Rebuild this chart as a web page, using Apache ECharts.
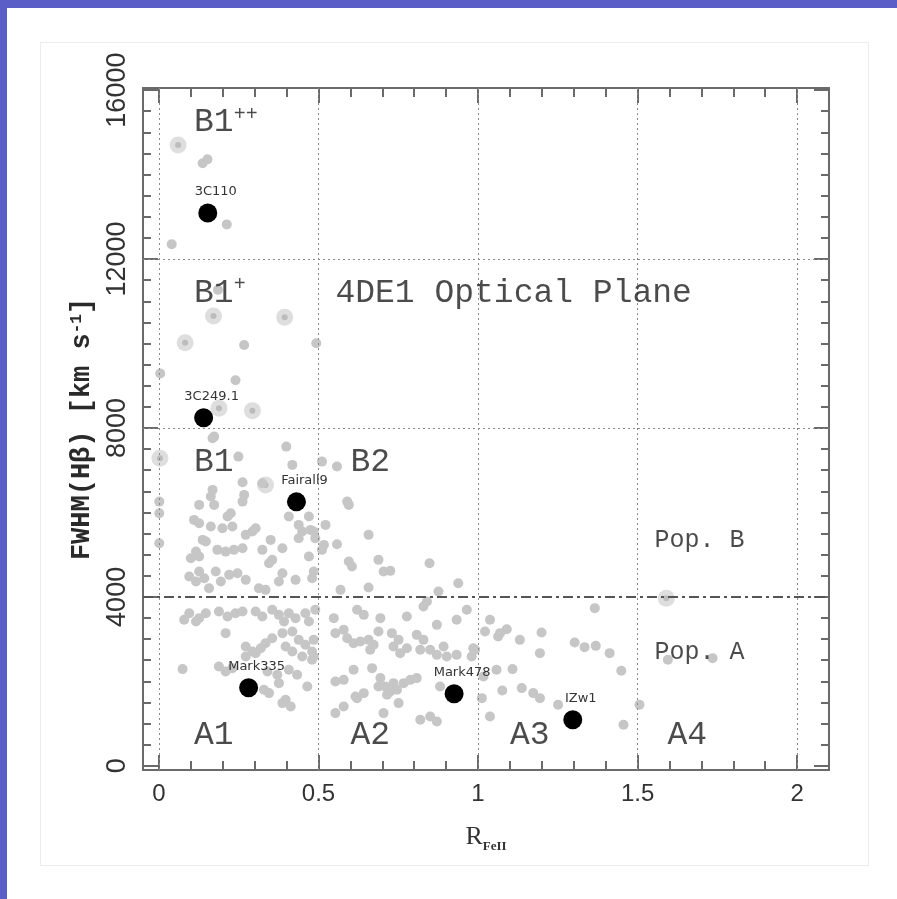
<!DOCTYPE html>
<html>
<head>
<meta charset="utf-8">
<title>4DE1 Optical Plane</title>
<script src="https://cdn.jsdelivr.net/npm/echarts@6/dist/echarts.min.js"></script>
<style>
  html, body { margin: 0; padding: 0; }
  body { width: 897px; height: 899px; background: #5a5ec6; position: relative; overflow: hidden; }
  #sheet { position: absolute; left: 7px; top: 8px; right: 0; bottom: 0; background: #fff; }
  #panel { position: absolute; left: 40px; top: 42px; width: 827px; height: 822px; border: 1px solid #ececec; background: #fff; }
  #chart { position: absolute; left: 0; top: 0; width: 897px; height: 899px; }
</style>
</head>
<body>
<div id="sheet"></div>
<div id="panel"></div>
<div id="chart"></div>
<script>
// tick positions
var xTicks = [0, 0.5, 1, 1.5, 2];
var yTicks = [0, 4000, 8000, 12000, 16000];
var yGrid = [8000, 12000];
var popDivide = 4000;

// grey sample points [R_FeII, FWHM(Hb)]
var samplePoints = [
  [0.137,14270],[0.152,14360],[0.2125,12820],[0.04,12350],[0.185,11270],[0.267,9965],[0.493,10005],[0.004,9290],[0.24,9130],[0.173,7795],
  [0.168,7757],[0.399,7558],[0.249,7321],[0.418,7125],[0.262,6715],[0.324,6691],[0.168,6533],[0.1625,6375],[0.267,6415],[0.262,6256],
  [0.001,6256],[0.126,6178],[0.173,6178],[0.225,5981],[0.215,5901],[0.001,5981],[0.11,5823],[0.126,5745],[0.1625,5665],[0.199,5626],
  [0.23,5665],[0.272,5468],[0.293,5546],[0.303,5626],[0.47,5901],[0.407,5901],[0.438,5704],[0.137,5349],[0.147,5309],[0.001,5270],
  [0.35,5349],[0.438,5388],[0.449,5546],[0.475,5586],[0.116,5072],[0.126,4955],[0.1,4916],[0.183,5113],[0.209,5072],[0.235,5113],
  [0.262,5153],[0.324,5113],[0.387,5153],[0.355,4876],[0.345,4797],[0.47,4955],[0.095,4481],[0.126,4600],[0.142,4442],[0.116,4363],
  [0.178,4600],[0.194,4363],[0.22,4521],[0.246,4561],[0.272,4403],[0.387,4561],[0.376,4363],[0.428,4403],[0.313,4206],[0.334,4166],
  [0.157,4206],
  [0.511,7203],[0.558,7085],[0.59,6256],[0.595,6178],[0.522,5704],[0.485,5546],[0.49,5388],[0.657,5468],[0.558,5247],[0.517,5231],
  [0.511,5113],[0.688,4876],[0.595,4836],[0.605,4718],[0.704,4600],[0.725,4616],[0.848,4797],[0.938,4324],[0.569,4166],[0.657,4220],
  [0.876,4126],[0.485,4600],[0.48,4442],
  [0.095,3614],[0.126,3496],[0.079,3456],[0.147,3614],[0.116,3416],[0.188,3653],[0.215,3535],[0.24,3614],[0.262,3653],[0.303,3653],
  [0.324,3535],[0.355,3693],[0.376,3574],[0.407,3614],[0.392,3416],[0.428,3496],[0.459,3614],[0.47,3416],[0.209,3141],[0.272,2824],
  [0.293,2706],[0.319,2785],[0.334,2903],[0.355,3021],[0.387,3141],[0.418,3180],[0.438,2982],[0.459,2864],[0.48,2706],[0.397,2824],
  [0.418,2706],[0.449,2587],[0.48,2509],[0.272,2587],[0.303,2667],[0.074,2289],[0.188,2350],[0.209,2232],[0.23,2312],[0.34,2232],
  [0.371,2154],[0.407,2272],[0.433,2154],[0.345,1721],[0.329,1799],[0.397,1562],[0.413,1404],[0.387,1484],[0.465,1877],[0.376,1957],
  [0.49,3693],[0.548,3496],[0.621,3693],[0.642,3574],[0.694,3496],[0.777,3535],[0.829,3771],[0.84,3890],[0.871,3337],[0.933,3456],
  [0.965,3693],[0.553,3141],[0.579,3219],[0.59,3021],[0.61,2903],[0.631,2942],[0.657,2982],[0.673,2864],[0.662,2746],[0.688,3180],
  [0.73,3141],[0.751,2982],[0.735,2824],[0.756,2667],[0.777,2785],[0.808,3100],[0.829,2982],[0.819,2746],[0.85,2746],[0.871,2627],
  [0.892,2824],[0.902,2587],[0.933,2627],[0.985,2785],[0.98,2587],[0.485,2982],[0.485,2587],[0.61,2272],[0.668,2312],[0.579,2035],
  [0.553,1995],[0.694,2076],[0.709,1877],[0.725,1759],[0.746,1799],[0.767,1957],[0.788,2035],[0.808,2076],[0.688,1877],[0.715,1681],
  [0.751,1484],[0.621,1602],[0.579,1404],[0.553,1247],[0.704,1247],[0.819,1089],[0.85,1167],[0.871,1049],[0.881,1877],[0.616,1640],
  [0.642,1720],[0.735,1957],
  [1.366,3733],[1.0375,3456],[1.022,3180],[1.069,3141],[1.09,3235],[1.063,3061],[1.131,2982],[1.199,3156],[1.194,2667],[1.303,2919],
  [1.334,2809],[1.369,2840],[1.4125,2667],[1.449,2249],[1.108,2289],[0.991,2746],[1.017,2114],[1.058,2272],[1.137,1839],[1.173,1721],
  [1.194,1602],[1.251,1444],[1.076,1782],[1.012,1602],[1.0375,1167],[1.456,970],[1.506,1444],[1.595,2509],[1.735,2549]
];

// the bigger pale rings
var ringPoints = [
  [0.06,14700],[0.171,10650],[0.394,10620],[0.082,10020],[0.188,8466],[0.293,8410],[0.003,7283],[0.334,6650],[1.59,3969]
];

// labelled sources (black dots)
var sourceNames = ['3C110', '3C249.1', 'Fairall9', 'Mark335', 'Mark478', 'IZw1'];
var sourceRfe = [0.153, 0.14, 0.431, 0.281, 0.925, 1.297];
var sourceFwhm = [13090, 8240, 6250, 1846, 1704, 1089];

// bin names and where they sit
var binNames = ['B1', 'B1', '4DE1 Optical Plane', 'B1', 'B2', 'A1', 'A2', 'A3', 'A4'];
var binSup = ['++', '+', '', '', '', '', '', '', ''];
var binRfe = [0.11, 0.11, 0.553, 0.11, 0.6, 0.11, 0.6, 1.1, 1.594];
var binFwhm = [15240, 11195, 11195, 7195, 7195, 734, 734, 734, 734];

var popNames = ['Pop. B', 'Pop. A'];
var popRfe = [1.553, 1.553];
var popFwhm = [5349, 2675];

var myChart = echarts.init(document.getElementById('chart'));

var frameColor = '#6a6a6a';
var textColor = '#1e1e1e';
var X_MIN = -0.05, X_MAX = 2.1, Y_MIN = -100, Y_MAX = 16050;

// minor tick positions between the major ones
var xMinor = [];
for (var i = 0; i <= 21; i++) xMinor.push(+(i * 0.1).toFixed(2));
var yMinor = [];
for (var j = 0; j <= 32; j++) yMinor.push(j * 500);

function plain(v) { return String(v); }

function xAxisCfg(pos, ticks, len, withLine, withLabel) {
  return {
    type: 'value', min: X_MIN, max: X_MAX, position: pos,
    axisLine: { show: withLine, onZero: false, lineStyle: { color: frameColor, width: 2 } },
    axisTick: { show: true, inside: true, length: len, customValues: ticks, lineStyle: { color: frameColor, width: 2 } },
    axisLabel: withLabel ? { show: true, customValues: xTicks, formatter: plain, fontSize: 24, margin: 12, color: '#333', fontFamily: 'Liberation Sans' } : { show: false },
    splitLine: { show: false }
  };
}
function yAxisCfg(pos, ticks, len, withLine, withLabel) {
  return {
    type: 'value', min: Y_MIN, max: Y_MAX, position: pos,
    axisLine: { show: withLine, onZero: false, lineStyle: { color: frameColor, width: 2 } },
    axisTick: { show: true, inside: true, length: len, customValues: ticks, lineStyle: { color: frameColor, width: 2 } },
    axisLabel: withLabel ? { show: true, customValues: yTicks, formatter: plain, rotate: 90, fontSize: 27, margin: 12, color: '#333', fontFamily: 'Liberation Sans' } : { show: false },
    splitLine: { show: false }
  };
}

var xMain = xAxisCfg('bottom', xTicks, 15, true, true);
xMain.name = '{r|R}{s|FeII}';
xMain.nameLocation = 'middle';
xMain.nameGap = 52;
xMain.nameTextStyle = {
  rich: {
    r: { fontSize: 26, fontFamily: 'Liberation Serif', color: '#333' },
    s: { fontSize: 13, fontFamily: 'Liberation Serif', fontWeight: 'bold', color: '#333', padding: [18, 0, 0, 0] }
  }
};
var yMain = yAxisCfg('left', yTicks, 15, true, true);
yMain.name = '{n|FWHM(Hβ) [km s}{sup|-1}{n|]}';
yMain.nameLocation = 'middle';
yMain.nameRotate = 90;
yMain.nameGap = 40;
yMain.nameTextStyle = {
  rich: {
    n: { fontSize: 27, fontFamily: 'Liberation Mono', fontWeight: 'bold', color: '#2a2a2a' },
    sup: { fontSize: 16, fontFamily: 'Liberation Mono', fontWeight: 'bold', color: '#2a2a2a', padding: [0, 0, 12, 0] }
  }
};

var dotted = { color: '#8a8a8a', width: 1, type: [2, 3] };

myChart.setOption({
  animation: false,
  grid: { left: 143, top: 88, width: 686, height: 682, containLabel: false },
  xAxis: [
    xMain,
    xAxisCfg('bottom', xMinor, 9, false, false),
    xAxisCfg('top', xTicks, 15, true, false),
    xAxisCfg('top', xMinor, 9, false, false)
  ],
  yAxis: [
    yMain,
    yAxisCfg('left', yMinor, 8, false, false),
    yAxisCfg('right', yTicks, 15, true, false),
    yAxisCfg('right', yMinor, 8, false, false)
  ],
  series: [
    {
      // dotted grid
      type: 'scatter', data: [], silent: true, z: 1,
      markLine: {
        silent: true, symbol: 'none', label: { show: false },
        lineStyle: dotted,
        data: xTicks.map(function (v) { return { xAxis: v }; })
          .concat(yGrid.map(function (v) { return { yAxis: v }; }))
      }
    },
    {
      type: 'scatter', name: 'rings', data: ringPoints, symbolSize: 17, z: 2,
      itemStyle: { color: '#dedede', opacity: 1 }, silent: true
    },
    {
      type: 'scatter', name: 'ring cores', data: ringPoints, symbolSize: 6, z: 3,
      itemStyle: { color: '#bcbcbc', opacity: 1 }, silent: true
    },
    {
      type: 'scatter', name: 'sample', data: samplePoints, symbolSize: 10, z: 3,
      itemStyle: { color: '#c6c6c6', opacity: 1 }, silent: true
    },
    {
      // Pop. A / Pop. B divide
      type: 'scatter', data: [], silent: true, z: 4,
      markLine: {
        silent: true, symbol: 'none', label: { show: false },
        lineStyle: { color: '#555', width: 2, type: [10, 4, 3, 4] },
        data: [{ yAxis: popDivide }]
      }
    },
    {
      type: 'scatter', name: 'sources', z: 5,
      data: sourceNames.map(function (n, k) { return { name: n, value: [sourceRfe[k], sourceFwhm[k]] }; }),
      symbolSize: 19, itemStyle: { color: '#000', opacity: 1 },
      label: {
        show: true, position: 'top', distance: 5, offset: [8, 0],
        formatter: '{b}', fontSize: 13, fontFamily: 'DejaVu Sans', color: '#333'
      }
    },
    {
      type: 'scatter', name: 'bins', z: 6, symbolSize: 0, silent: true,
      data: binNames.map(function (n, k) { return { name: n, value: [binRfe[k], binFwhm[k]], sup: binSup[k] }; }),
      label: {
        show: true, position: [0, 0], align: 'left', verticalAlign: 'middle',
        formatter: function (p) {
          var s = '{b|' + p.name + '}';
          if (p.data.sup) s += '{sup|' + p.data.sup + '}';
          return s;
        },
        rich: {
          b: { fontSize: 33, fontFamily: 'Liberation Mono', color: textColor, lineHeight: 36 },
          sup: { fontSize: 20, fontFamily: 'Liberation Mono', color: textColor, padding: [0, 0, 16, 0] }
        }
      }
    },
    {
      type: 'scatter', name: 'populations', z: 6, symbolSize: 0, silent: true,
      data: popNames.map(function (n, k) { return { name: n, value: [popRfe[k], popFwhm[k]] }; }),
      label: {
        show: true, position: [0, 0], align: 'left', verticalAlign: 'middle',
        formatter: '{b}', fontSize: 25, fontFamily: 'Liberation Mono', color: textColor
      }
    }
  ]
});
</script>
</body>
</html>
